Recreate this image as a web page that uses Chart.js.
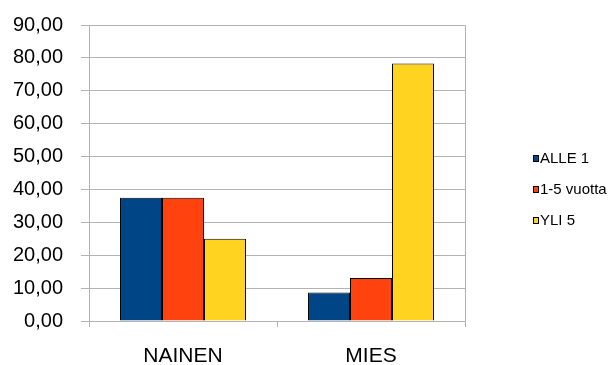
<!DOCTYPE html>
<html>
<head>
<meta charset="utf-8">
<script src="https://cdn.jsdelivr.net/npm/chart.js@4/dist/chart.umd.min.js"></script>
<style>
html,body{margin:0;padding:0;background:#fff;}
#c{display:block;}
</style>
</head>
<body>
<canvas id="c" width="612" height="365"></canvas>
<script>
const categories = ["NAINEN", "MIES"];
const seriesNames = ["ALLE 1", "1-5 vuotta", "YLI 5"];
const alle1 = [37.5, 8.70];
const vuotta15 = [37.5, 13.04];
const yli5 = [25.0, 78.26];
const seriesColors = ["#004586", "#ff420e", "#ffd320"];

const legendPlugin = {
  id: 'customLegend',
  afterDraw(chart) {
    const ctx = chart.ctx;
    ctx.save();
    chart.data.datasets.forEach((ds, i) => {
      const cy = 158 + 31 * i;
      ctx.fillStyle = ds.backgroundColor;
      ctx.fillRect(533, cy - 3, 6, 7);
      ctx.strokeStyle = '#000';
      ctx.lineWidth = 1;
      ctx.strokeRect(533.5, cy - 2.5, 5, 6);
      ctx.fillStyle = '#000';
      ctx.font = '15px "Liberation Sans", Arial, sans-serif';
      ctx.textBaseline = 'middle';
      ctx.textAlign = 'left';
      ctx.fillText(ds.label, 540, cy + 1);
    });
    ctx.restore();
  }
};

const borderPlugin = {
  id: 'rightBorder',
  beforeDatasetsDraw(chart) {
    const a = chart.chartArea;
    const ctx = chart.ctx;
    ctx.save();
    ctx.strokeStyle = '#b3b3b3';
    ctx.lineWidth = 1;
    ctx.beginPath();
    ctx.moveTo(Math.round(a.right) + 0.5, a.top);
    ctx.lineTo(Math.round(a.right) + 0.5, a.bottom);
    ctx.stroke();
    ctx.restore();
  }
};

new Chart(document.getElementById('c'), {
  type: 'bar',
  data: {
    labels: categories,
    datasets: [
      { label: seriesNames[0], data: alle1, backgroundColor: seriesColors[0] },
      { label: seriesNames[1], data: vuotta15, backgroundColor: seriesColors[1] },
      { label: seriesNames[2], data: yli5, backgroundColor: seriesColors[2] }
    ].map(d => Object.assign(d, { borderColor: '#000', borderWidth: 1, categoryPercentage: 0.67, barPercentage: 1.0 }))
  },
  options: {
    responsive: false,
    animation: false,
    devicePixelRatio: 1,
    layout: { padding: { top: 25, right: 147, bottom: 0, left: 0 } },
    plugins: {
      legend: { display: false },
      tooltip: { enabled: false }
    },
    scales: {
      x: {
        grid: { display: true, drawOnChartArea: false, offset: true, color: '#b3b3b3', tickLength: 6 },
        border: { color: '#b3b3b3' },
        ticks: { color: '#000', font: { family: '"Liberation Sans", Arial, sans-serif', size: 21 }, padding: 17, maxRotation: 0 },
        afterFit(scale) { scale.height = 44; scale.paddingLeft = 0; scale.paddingRight = 0; }
      },
      y: {
        min: 0, max: 90,
        grid: { color: '#b3b3b3', tickLength: 8 },
        border: { color: '#b3b3b3' },
        ticks: {
          stepSize: 10,
          color: '#000',
          padding: 18,
          font: { family: '"Liberation Sans", Arial, sans-serif', size: 20 },
          callback: v => v.toFixed(2).replace('.', ',')
        },
        afterFit(scale) { scale.width = 89; scale.paddingTop = 0; scale.paddingBottom = 0; }
      }
    }
  },
  plugins: [borderPlugin, legendPlugin]
});
</script>
</body>
</html>
